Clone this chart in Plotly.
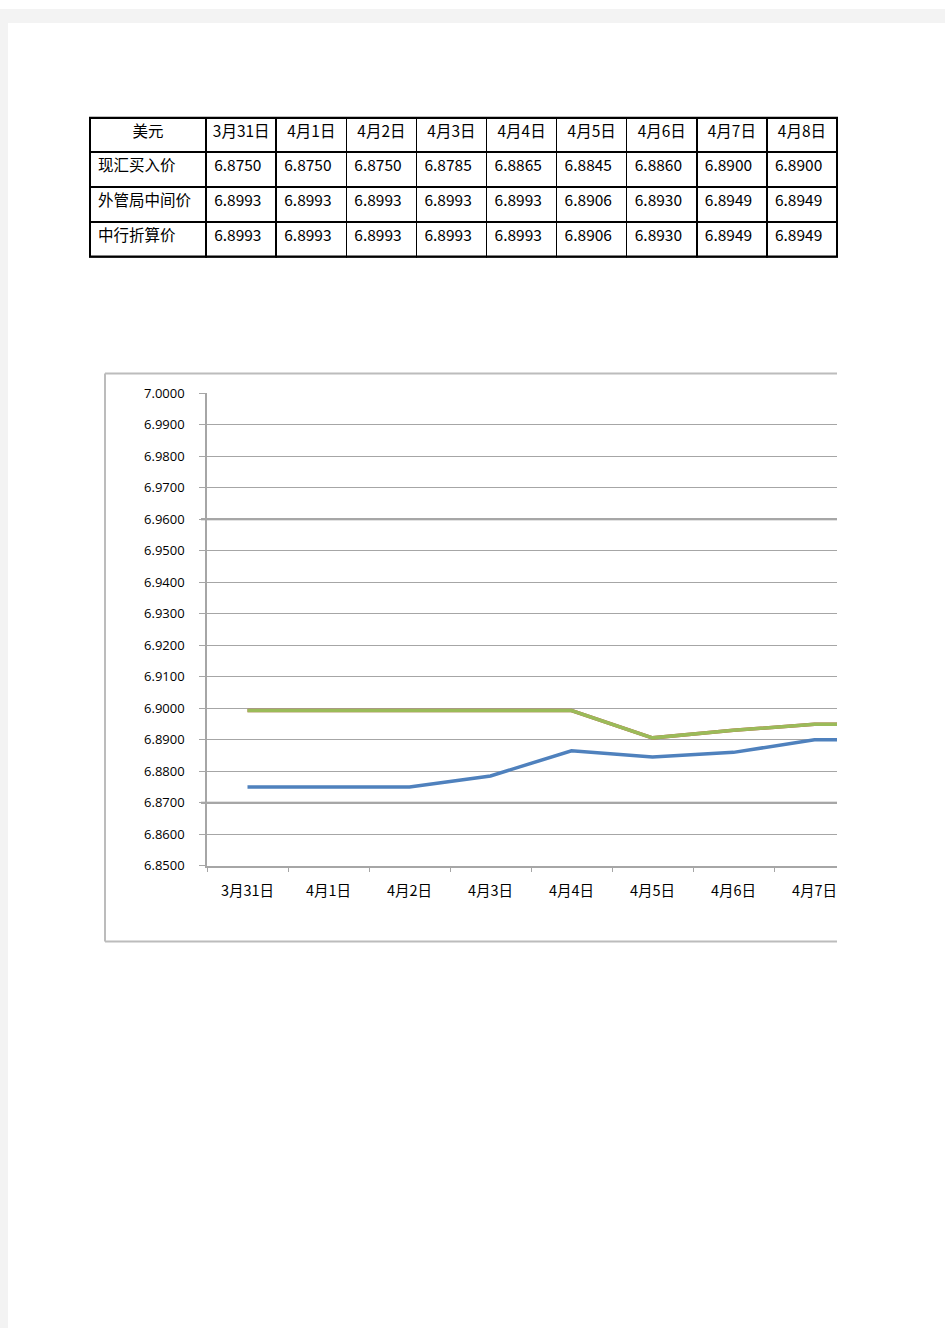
import plotly.graph_objects as go

# ---- data ----
dates = ["3月31日", "4月1日", "4月2日", "4月3日", "4月4日", "4月5日", "4月6日", "4月7日", "4月8日"]
row_labels = ["现汇买入价", "外管局中间价", "中行折算价"]
spot_buy = [6.8750, 6.8750, 6.8750, 6.8785, 6.8865, 6.8845, 6.8860, 6.8900, 6.8900]
safe_mid = [6.8993, 6.8993, 6.8993, 6.8993, 6.8993, 6.8906, 6.8930, 6.8949, 6.8949]
boc_rate = [6.8993, 6.8993, 6.8993, 6.8993, 6.8993, 6.8906, 6.8930, 6.8949, 6.8949]
corner_label = "美元"
y_ticks = [6.85, 6.86, 6.87, 6.88, 6.89, 6.90, 6.91, 6.92, 6.93, 6.94, 6.95, 6.96, 6.97, 6.98, 6.99, 7.00]
dark_grid = [6.96, 6.87]

W, H = 945, 1337
OFF, EFF = 8.0, 1321.0   # observed page offset / effective height in the photograph
def px(x):
    return x / W
def py(y):
    return min(1.0, max(0.0, 1 - (y - OFF) / EFF))

fig = go.Figure()

# ---- table ----
header_vals = [corner_label] + dates
cell_cols = [row_labels] + [[spot_buy[i], safe_mid[i], boc_rate[i]] for i in range(len(dates))]
fig.add_trace(go.Table(
    domain=dict(x=[px(90), px(837)], y=[py(258), py(117)]),
    columnwidth=[116] + [70] * len(dates),
    header=dict(values=header_vals, align="center", height=34,
                line=dict(color="black", width=1.5), fill=dict(color="white"),
                font=dict(family="Noto Sans CJK SC", size=15.5, color="black")),
    cells=dict(values=cell_cols, align="left", height=35,
               format=[None] + [".4f"] * len(dates),
               line=dict(color="black", width=1.5), fill=dict(color="white"),
               font=dict(family="Noto Sans CJK SC", size=15.5, color="black")),
))

# ---- lines (series order: blue, red, green like Excel) ----
fig.add_trace(go.Scatter(x=dates, y=spot_buy, mode="lines", name=row_labels[0],
                         line=dict(color="#4F81BD", width=3.5)))
fig.add_trace(go.Scatter(x=dates, y=safe_mid, mode="lines", name=row_labels[1],
                         line=dict(color="#C0504D", width=3.5)))
fig.add_trace(go.Scatter(x=dates, y=boc_rate, mode="lines", name=row_labels[2],
                         line=dict(color="#9BBB59", width=3.5)))

shapes = []
# page background gray margins
shapes.append(dict(type="rect", xref="paper", yref="paper", x0=0, x1=1, y0=py(22), y1=1,
                   fillcolor="#f3f3f3", line=dict(width=0), layer="below"))
shapes.append(dict(type="rect", xref="paper", yref="paper", x0=0, x1=px(8), y0=0, y1=1,
                   fillcolor="#f3f3f3", line=dict(width=0), layer="below"))
# table outer bottom / top borders
for yy in (117, 256):
    shapes.append(dict(type="line", xref="paper", yref="paper", x0=px(89), x1=px(838),
                       y0=py(yy), y1=py(yy), line=dict(color="black", width=2)))
# chart area frame (clipped at right)
for (x0, y0, x1, y1) in [(105, 373, 837, 373), (105, 373, 105, 942), (105, 942, 837, 942)]:
    shapes.append(dict(type="line", xref="paper", yref="paper", x0=px(x0), x1=px(x1),
                       y0=py(y0), y1=py(y1), line=dict(color="#bcbcbc", width=2)))
# darker gridlines (rendering emphasis in reference)
for g in dark_grid:
    shapes.append(dict(type="line", xref="x domain", yref="y", x0=-6 / 630, x1=1, y0=g, y1=g,
                       line=dict(color="#8a8a8a", width=2), layer="below"))

n_vis = (837 - 207) / 81.0
fig.update_layout(
    width=W, height=H, margin=dict(l=0, r=0, t=0, b=0),
    paper_bgcolor="white", plot_bgcolor="white",
    showlegend=False,
    shapes=shapes,
    xaxis=dict(domain=[px(207), px(837)], type="category", range=[-0.5, -0.5 + n_vis],
               showgrid=False, showline=True, linecolor="#a6a6a6", linewidth=1.5,
               ticks="outside", tickson="boundaries", ticklen=5, tickcolor="#a6a6a6",
               ticklabelstandoff=11,
               tickfont=dict(family="Noto Sans CJK SC", size=14.5, color="black")),
    yaxis=dict(domain=[py(866), py(393)], range=[6.85, 7.00], tickvals=y_ticks,
               tickformat=".4f", showgrid=True, gridcolor="#a6a6a6", gridwidth=1,
               showline=True, linecolor="#a6a6a6", linewidth=1.5,
               ticks="outside", ticklen=6, tickcolor="#a6a6a6",
               ticklabelstandoff=12, zeroline=False,
               tickfont=dict(family="Open Sans", size=13, color="black")),
)

fig.write_html("out.html")
